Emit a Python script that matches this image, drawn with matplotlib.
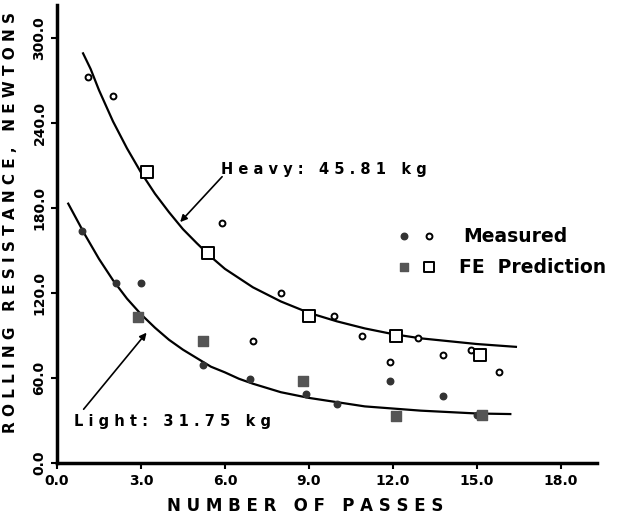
import numpy as np
import matplotlib.pyplot as plt

# measured points (number of passes, rolling resistance N)
heavy_meas_x = [1.1, 2.0, 5.9, 7.0, 8.0, 9.9, 10.9, 11.9, 12.9, 13.8, 14.8, 15.8]
heavy_meas_y = [272, 259, 169, 86, 120, 104, 90, 71, 88, 76, 80, 64]
light_meas_x = [0.9, 2.1, 3.0, 5.2, 6.9, 8.9, 10.0, 11.9, 13.8, 15.0]
light_meas_y = [164, 127, 127, 69, 59, 49, 42, 58, 47, 34]

# FE predictions
heavy_fe_x = [3.2, 5.4, 9.0, 12.1, 15.1]
heavy_fe_y = [205, 148, 104, 90, 76]
light_fe_x = [2.9, 5.2, 8.8, 12.1, 15.2]
light_fe_y = [103, 86, 58, 33, 34]

# fitted curves
heavy_fit_x = [0.93, 1.2, 1.5, 2, 2.5, 3, 3.5, 4, 4.5, 5, 5.5, 6, 6.5, 7, 7.5, 8, 9, 10, 11, 12, 13, 14, 15, 16.4]
heavy_fit_y = [289, 278, 263, 241, 222, 205, 190, 177, 165, 155, 145.5, 137, 130.5, 124, 119, 114, 106, 100, 95, 91, 88, 86, 84, 82]
light_fit_x = [0.4, 0.7, 1, 1.5, 2, 2.5, 3, 3.5, 4, 4.5, 5, 5.5, 6, 6.5, 7, 7.5, 8, 9, 10, 11, 12, 13, 14, 15, 16.2]
light_fit_y = [183, 172, 161, 144, 129, 116, 105, 95.5, 87, 80, 74, 68, 64, 59.5, 56, 53, 50, 46, 43, 40, 38.5, 37, 36, 35, 34.6]

xticks = [0, 3, 6, 9, 12, 15, 18]
yticks = [0, 60, 120, 180, 240, 300]

fig = plt.figure(figsize=(6.2, 5.14), dpi=100)
ax = fig.add_axes([0.092, 0.099, 0.871, 0.891])

ax.plot(heavy_fit_x, heavy_fit_y, color="black", lw=1.6)
ax.plot(light_fit_x, light_fit_y, color="black", lw=1.6)

ax.scatter(heavy_meas_x, heavy_meas_y, s=18, facecolors="white", edgecolors="black", linewidths=1.4, zorder=3)
ax.scatter(light_meas_x, light_meas_y, s=22, color="#333333", zorder=3)
ax.scatter(heavy_fe_x, heavy_fe_y, s=70, marker="s", facecolors="white", edgecolors="black", linewidths=1.4, zorder=3)
ax.scatter(light_fe_x, light_fe_y, s=55, marker="s", color="#555555", zorder=3)

ax.set_xlim(0, 19.3)
ax.set_ylim(0, 323)
ax.set_xticks(xticks)
ax.set_xticklabels([f"{t:.1f}" for t in xticks], fontsize=10, fontweight="bold")
ax.set_yticks(yticks)
ax.set_yticklabels([f"{t:.1f}" for t in yticks], fontsize=10, fontweight="bold", rotation=90, va="center")
ax.tick_params(direction="out", length=4, width=1.5)
for s in ["top", "right"]:
    ax.spines[s].set_visible(False)
for s in ["left", "bottom"]:
    ax.spines[s].set_linewidth(2.5)

ax.set_xlabel("N U M B E R   O F   P A S S E S", fontsize=12, fontweight="heavy")
ax.xaxis.set_label_coords(0.46, -0.075)
ax.set_ylabel("R O L L I N G   R E S I S T A N C E ,   N E W T O N S", fontsize=11, fontweight="heavy")
ax.yaxis.set_label_coords(-0.073, 0.525)

# annotations
ax.annotate("", xy=(4.4, 170), xytext=(5.9, 202),
            arrowprops=dict(arrowstyle="-|>", color="black", lw=1.2, shrinkA=0, shrinkB=0))
ax.text(5.85, 207, "H e a v y :   4 5 . 8 1   k g", fontsize=10.5, fontweight="heavy", va="center", ha="left")
ax.annotate("", xy=(3.2, 92), xytext=(0.95, 38),
            arrowprops=dict(arrowstyle="-|>", color="black", lw=1.2, shrinkA=0, shrinkB=0))
ax.text(0.62, 29, "L i g h t :   3 1 . 7 5   k g", fontsize=10.5, fontweight="heavy", va="center", ha="left")

# legend drawn by hand
ax.scatter([12.4], [160], s=22, color="#333333")
ax.scatter([13.3], [160], s=18, facecolors="white", edgecolors="black", linewidths=1.4)
ax.text(14.5, 160, "Measured", fontsize=13.5, fontweight="heavy", va="center")
ax.scatter([12.4], [138], s=40, marker="s", color="#555555")
ax.scatter([13.3], [138], s=60, marker="s", facecolors="white", edgecolors="black", linewidths=1.4)
ax.text(14.35, 138, "FE  Prediction", fontsize=13.5, fontweight="heavy", va="center")

fig.savefig("out.png", dpi=100)
